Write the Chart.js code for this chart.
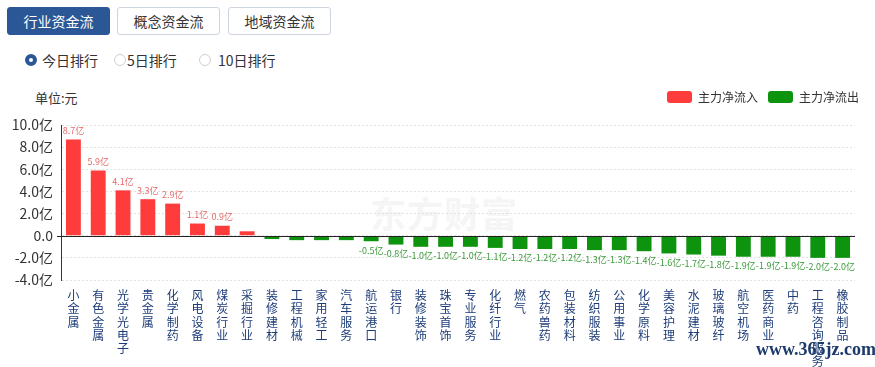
<!DOCTYPE html>
<html>
<head>
<meta charset="utf-8">
<script src="https://cdn.jsdelivr.net/npm/chart.js@4.4.1/dist/chart.umd.min.js"></script>
<style>
  html, body { margin: 0; padding: 0; background: #fff; }
  body { width: 875px; height: 367px; position: relative; overflow: hidden;
         font-family: "Noto Sans CJK SC", "Noto Sans", sans-serif; color: #333; }
  .btn { position: absolute; top: 7px; height: 26px; line-height: 26px; width: 101px;
         border: 1px solid #cdd5df; border-radius: 3px; text-align: center; font-size: 14px;
         color: #333; background: #fff; }
  .btn.on { background: #2b5797; border-color: #2b5797; color: #fff; }
  .radio { position: absolute; top: 51px; font-size: 14px; line-height: 18px; color: #333; }
  .dot { position: absolute; top: 3px; width: 12px; height: 12px; border-radius: 50%;
         box-sizing: border-box; border: 1px solid #d0d0d0; background: #fff; }
  .dot.on { border: 4px solid #2b5797; }
  #unit { position: absolute; left: 35px; top: 88px; font-size: 13px; color: #333; }
  #wm { position: absolute; left: 370px; top: 186px; font-size: 36px; font-weight: bold;
        color: #f5f5f5; letter-spacing: 1px; }
  #wm2 { position: absolute; left: 756px; top: 339px; font-family: "Liberation Serif", "DejaVu Serif", serif;
         font-weight: bold; font-size: 18px; color: #1c3a6b; z-index: 5; }
  #wrap { position: absolute; left: 0; top: 80px; width: 875px; height: 287px; z-index: 2; }
</style>
</head>
<body>
<div class="btn on" style="left:7px">行业资金流</div>
<div class="btn" style="left:117px">概念资金流</div>
<div class="btn" style="left:228px">地域资金流</div>

<div class="radio" style="left:25px"><span class="dot on" style="left:0"></span><span style="margin-left:17px">今日排行</span></div>
<div class="radio" style="left:114px"><span class="dot" style="left:0"></span><span style="margin-left:13px">5日排行</span></div>
<div class="radio" style="left:199px"><span class="dot" style="left:0"></span><span style="margin-left:19px">10日排行</span></div>

<div id="unit">单位:元</div>
<div id="wm">东方财富</div>
<div id="wrap"><canvas id="c" width="875" height="287"></canvas></div>
<div id="wm2">www.365jz.com</div>

<script>
const categories = ["小金属","有色金属","光学光电子","贵金属","化学制药","风电设备","煤炭行业","采掘行业",
  "装修建材","工程机械","家用轻工","汽车服务","航运港口","银行","装修装饰","珠宝首饰","专业服务","化纤行业",
  "燃气","农药兽药","包装材料","纺织服装","公用事业","化学原料","美容护理","水泥建材","玻璃玻纤","航空机场",
  "医药商业","中药","工程咨询服务","橡胶制品"];
const netFlow = [8.7, 5.9, 4.1, 3.3, 2.9, 1.1, 0.9, 0.4,
  -0.3, -0.4, -0.4, -0.4, -0.5, -0.8, -1.0, -1.0, -1.0, -1.1,
  -1.2, -1.2, -1.2, -1.3, -1.3, -1.4, -1.6, -1.7, -1.8, -1.9,
  -1.9, -1.9, -2.0, -2.0];
const seriesNames = ["主力净流入", "主力净流出"];
const yTicks = [10, 8, 6, 4, 2, 0, -2, -4];

const inflow = netFlow.map(v => v > 0 ? v : null);
const outflow = netFlow.map(v => v < 0 ? v : null);

const RED = '#ff3c3c', GREEN = '#0e930e';

const zeroLine = {
  id: 'zeroLine',
  afterDatasetsDraw(chart) {
    const {ctx, chartArea, scales} = chart;
    const y = Math.round(scales.y.getPixelForValue(0)) + 0.5;
    ctx.save();
    ctx.strokeStyle = '#222';
    ctx.lineWidth = 1;
    ctx.beginPath();
    ctx.moveTo(chartArea.left - 4, y);
    ctx.lineTo(chartArea.right, y);
    ctx.stroke();
    ctx.restore();
  }
};

const barLabels = {
  id: 'barLabels',
  afterDatasetsDraw(chart) {
    const {ctx} = chart;
    ctx.save();
    ctx.font = '9px "Noto Sans CJK SC", sans-serif';
    ctx.textAlign = 'center';
    ctx.textBaseline = 'middle';
    chart.data.datasets.forEach((ds, di) => {
      const meta = chart.getDatasetMeta(di);
      meta.data.forEach((bar, i) => {
        const v = ds.data[i];
        if (v === null || Math.abs(v) < 0.5) return;
        const txt = v.toFixed(1) + '亿';
        if (v > 0) {
          ctx.fillStyle = '#e86a6a';
          ctx.fillText(txt, bar.x, bar.y - 9);
        } else {
          ctx.fillStyle = '#3a9a3a';
          ctx.fillText(txt, bar.x, bar.y + 9);
        }
      });
    });
    ctx.restore();
  }
};

new Chart(document.getElementById('c'), {
  type: 'bar',
  data: {
    labels: categories.map(s => s.split('')),
    datasets: [
      { label: seriesNames[0], data: inflow, backgroundColor: RED, borderWidth: 0,
        barPercentage: 0.6, categoryPercentage: 1.0 },
      { label: seriesNames[1], data: outflow, backgroundColor: GREEN, borderWidth: 0,
        barPercentage: 0.6, categoryPercentage: 1.0 }
    ]
  },
  options: {
    responsive: false,
    animation: false,
    events: [],
    layout: { padding: { top: 1, right: 6, bottom: 0, left: 0 } },
    plugins: {
      legend: {
        position: 'top', align: 'end',
        labels: { boxWidth: 25, boxHeight: 12, padding: 10, useBorderRadius: true, borderRadius: 3,
          color: '#333', font: { size: 12, family: '"Noto Sans CJK SC", sans-serif' } }
      },
      subtitle: { display: true, text: '', weight: 500, padding: 0, font: { size: 12, lineHeight: 1 } },
      tooltip: { enabled: false }
    },
    scales: {
      x: {
        stacked: true,
        afterFit(scale) { scale.height = 87; },
        grid: { display: false, drawTicks: false },
        border: { display: false },
        ticks: { autoSkip: false, maxRotation: 0, minRotation: 0, padding: 9, color: '#1d3c78',
          font: { size: 12, lineHeight: 1.1, family: '"Noto Sans CJK SC", sans-serif' } }
      },
      y: {
        stacked: true,
        min: -4, max: 10,
        afterBuildTicks(scale) { scale.ticks = yTicks.map(v => ({ value: v })); },
        afterFit(scale) { scale.width = 61; },
        grid: { color: '#e2e2e2', drawTicks: false, lineWidth: 1 },
        border: { display: true, color: '#333', width: 1, dash: [2, 2] },
        ticks: { padding: 8, color: '#333',
          font: { size: 14, family: '"Noto Sans CJK SC", sans-serif' },
          callback: v => v === 0 ? '0.0' : v.toFixed(1) + '亿' }
      },
      yR: {
        position: 'right', display: true,
        grid: { display: false, drawTicks: false },
        border: { display: false },
        ticks: { display: false },
        afterFit(scale) { scale.width = 14; }
      }
    }
  },
  plugins: [zeroLine, barLabels]
});
</script>
</body>
</html>
